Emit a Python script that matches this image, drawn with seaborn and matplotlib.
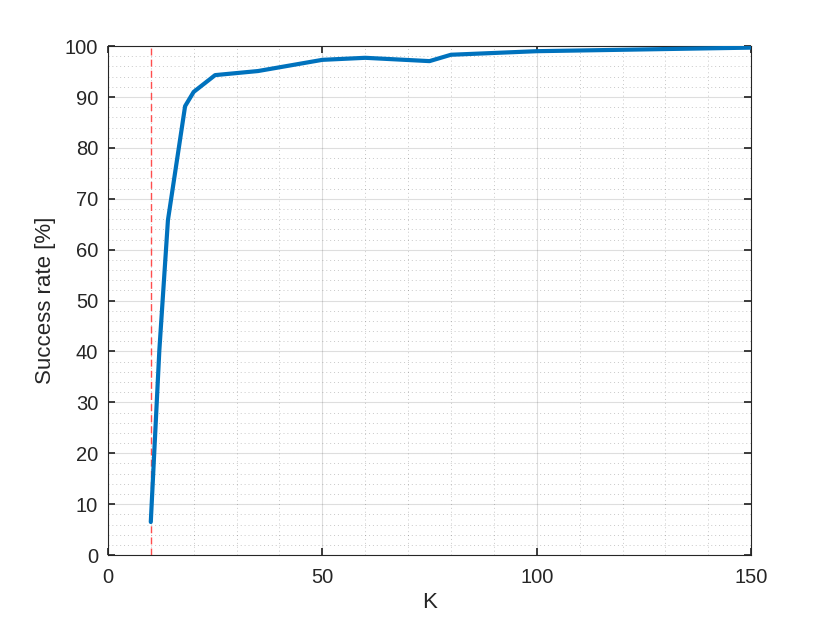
import numpy as np
import pandas as pd
import matplotlib
matplotlib.use("Agg")
import matplotlib.pyplot as plt
from matplotlib.ticker import MultipleLocator
import seaborn as sns

k_values = [10, 12, 14, 18, 20, 25, 35, 50, 60, 75, 80, 100, 150]
success_rate = [6.5, 40.3, 65.8, 88.2, 91.0, 94.3, 95.1, 97.3, 97.7, 97.05, 98.3, 99.0, 99.7]
threshold_k = 10

df = pd.DataFrame({"K": k_values, "rate": success_rate})

sns.set_theme(style="ticks")
plt.rcParams["font.family"] = ["Liberation Sans", "DejaVu Sans"]

fig = plt.figure(figsize=(8.3, 6.23), dpi=100)
ax = fig.add_axes([0.13, 0.109, 0.775, 0.817])

sns.lineplot(data=df, x="K", y="rate", ax=ax, color="#0072BD", linewidth=3.0,
             zorder=3)
ax.axvline(threshold_k, color="#FF4D4D", linestyle=(0, (5, 3)), linewidth=1.0,
           zorder=2)

ax.set_xlim(0, 150)
ax.set_ylim(0, 100)
ax.xaxis.set_major_locator(MultipleLocator(50))
ax.xaxis.set_minor_locator(MultipleLocator(10))
ax.yaxis.set_major_locator(MultipleLocator(10))
ax.yaxis.set_minor_locator(MultipleLocator(2))

ax.grid(which="major", color="#262626", alpha=0.15, linewidth=0.8)
ax.grid(which="minor", color="#262626", alpha=0.25, linestyle=(0, (1, 3)),
        linewidth=0.7)
ax.set_axisbelow(True)

for side in ["top", "right", "left", "bottom"]:
    ax.spines[side].set_visible(True)
    ax.spines[side].set_color("#262626")
    ax.spines[side].set_linewidth(0.8)

ax.tick_params(which="both", direction="in", top=True, right=True,
               colors="#262626", labelsize=14.5)
ax.tick_params(which="major", length=5)
ax.tick_params(axis="y", which="major", pad=7)
ax.tick_params(axis="x", which="major", pad=9)
ax.tick_params(which="minor", length=0)

ax.set_xlabel("K", fontsize=16, color="#262626", labelpad=4)
ax.set_ylabel("Success rate [%]", fontsize=16, color="#262626", labelpad=6)

fig.savefig("out.png", dpi=100)
